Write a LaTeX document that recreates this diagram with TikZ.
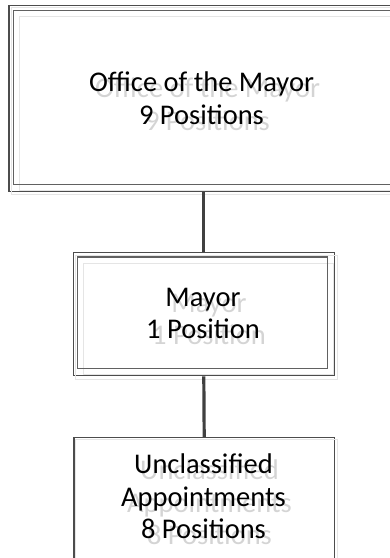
\documentclass[tikz,border=0pt]{standalone}
\usepackage{fontspec}
\setmainfont{Carlito}
\begin{document}
\begin{tikzpicture}[
		x=1pt, y=-1pt,
		% Stile per il riquadro esterno di ogni livello (solo cornice)
		box style/.style={draw=black!70, line width=1.3pt, inner sep=0pt},
		% Stile per la cornice interna
		frame style/.style={draw=black!62, line width=1.2pt},
		% Stile per l'ombra chiara delle cornici
		ghost style/.style={draw=black!10, line width=1pt},
		% Stile del testo e della sua ombra grigia
		text style/.style={align=center, inner sep=0pt, font=\fontsize{28.5}{32.5}\selectfont, text=black},
		shade style/.style={text style, text=black!17},
		% Stile per le linee di collegamento
		edge style/.style={line width=3.2pt, color=black!75}
	]
	\useasboundingbox (0,0) rectangle (390,558);
	\clip (0,0) rectangle (390,558);

	% =================================
	% RIQUADRI
	% =================================
	\node[box style, minimum width=387, minimum height=186] (office) at (202.5, 98.3) {};
	\node[box style, minimum width=261, minimum height=123] (mayor) at (203.8, 314.2) {};
	\node[box style, minimum width=260.3, minimum height=150] (unclassified) at (204.2, 512.7) {};

	% Ombre chiare delle cornici
	\draw[ghost style] ([shift={(3,3)}]office.north west) rectangle ([shift={(3,3)}]office.south east);
	\draw[ghost style] ([shift={(11,11.7)}]office.north west) rectangle ([shift={(1,-1.7)}]office.south east);
	\draw[ghost style] ([shift={(3,3)}]mayor.north west) rectangle ([shift={(3,3)}]mayor.south east);
	\draw[ghost style] ([shift={(11,11)}]mayor.north west) rectangle ([shift={(-1.6,-1.7)}]mayor.south east);
	\draw[ghost style] ([shift={(2.5,2.5)}]unclassified.north west) rectangle ([shift={(2.5,2.5)}]unclassified.south east);

	% Cornici interne (doppio bordo dei primi due livelli)
	\draw[frame style] ([shift={(5,5.7)}]office.north west) rectangle ([shift={(-5,-7.7)}]office.south east);
	\draw[frame style] ([shift={(5,5)}]mayor.north west) rectangle ([shift={(-7.6,-7.7)}]mayor.south east);

	% =================================
	% TESTI
	% =================================
	% Prima l'ombra grigia, poi il testo nero sopra
	\node[shade style] (office-shade) at (207.5, 104) {Office of the Mayor\\9 Positions};
	\node[shade style] (mayor-shade) at (209, 319.5) {Mayor\\1 Position};
	\node[shade style] (unclassified-shade) at (209.5, 502.5) {Unclassified\\Appointments\\8 Positions};

	\node[text style] (office-text) at (201.5, 98) {Office of the Mayor\\9 Positions};
	\node[text style] (mayor-text) at (203, 313.5) {Mayor\\1 Position};
	\node[text style] (unclassified-text) at (203.5, 496.5) {Unclassified\\Appointments\\8 Positions};

	% =================================
	% CONNESSIONI
	% =================================
	\draw[edge style] (office.south -| mayor.north) -- (mayor.north);
	\draw[edge style] (mayor.south) -- (unclassified.north);

\end{tikzpicture}
\end{document}
